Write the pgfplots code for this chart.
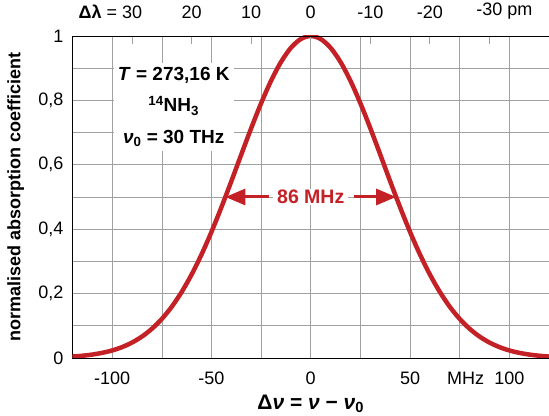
\documentclass[border=0pt]{standalone}
\usepackage{fontspec}
\setmainfont{Liberation Sans}
\usepackage{pgfplots}
\pgfplotsset{compat=1.18}
\usetikzlibrary{calc,arrows.meta}
\definecolor{curvered}{HTML}{C42127}
\definecolor{gridgray}{HTML}{A0A0A0}

\begin{document}
\fontsize{18}{21}\selectfont
\begin{tikzpicture}
\begin{axis}[name=ax,scale only axis,width=476.5pt,height=322pt,
 xmin=-120,xmax=120,ymin=0,ymax=1,
 axis x line*=bottom,axis y line*=left,axis line style={black,line width=0.9pt,-},
 xtick={-100,-50,0,50,100},xticklabels={-100,-50,0,50,100},
 minor xtick={-75,-25,25,75},
 ytick={0,0.2,0.4,0.6,0.8,1},yticklabels={0,{0,2},{0,4},{0,6},{0,8},1},
 minor ytick={0.1,0.3,0.5,0.7,0.9},
 major tick length=0pt,minor tick length=0pt,
 grid=both,major grid style={gridgray,line width=0.6pt},minor grid style={gridgray,line width=0.6pt},
 tick label style={font=\fontsize{18}{21}\selectfont},
 xticklabel style={yshift=-8pt},yticklabel style={xshift=-3pt},
 extra x ticks={78},extra x tick labels={MHz},extra x tick style={grid=none},
 xlabel={\textbf{Δ\textit{ν} = \textit{ν} − \textit{ν}\textsubscript{0}}},
 xlabel style={font=\fontsize{21}{22}\selectfont,yshift=2pt},
 ylabel={\bfseries normalised absorption coefficient},
 ylabel style={font=\fontsize{18}{21}\selectfont,yshift=2pt}]
\addplot[curvered,line width=4.5pt,smooth] coordinates {
(-125,0.0029)(-120,0.0045)(-115,0.0070)(-110,0.0107)(-105,0.0160)(-100,0.0235)
(-95,0.0339)(-90,0.0480)(-85,0.0666)(-80,0.0908)(-75,0.1214)(-70,0.1593)
(-65,0.2052)(-60,0.2594)(-55,0.3217)(-50,0.3917)(-45,0.4681)(-40,0.5489)
(-35,0.6318)(-30,0.7136)(-25,0.7911)(-20,0.8608)(-15,0.9191)(-10,0.9632)
(-5,0.9907)(0,1)(5,0.9907)(10,0.9632)(15,0.9191)(20,0.8608)(25,0.7911)
(30,0.7136)(35,0.6318)(40,0.5489)(45,0.4681)(50,0.3917)(55,0.3217)
(60,0.2594)(65,0.2052)(70,0.1593)(75,0.1214)(80,0.0908)(85,0.0666)
(90,0.0480)(95,0.0339)(100,0.0235)(105,0.0160)(110,0.0107)(115,0.0070)
(120,0.0045)(125,0.0029)};
\draw[curvered,line width=3pt,-{Triangle[length=20pt,width=16pt]}] (axis cs:-21,0.5) -- (axis cs:-43,0.5);
\draw[curvered,line width=3pt,-{Triangle[length=20pt,width=16pt]}] (axis cs:22,0.5) -- (axis cs:43,0.5);
\node[fill=white,text=curvered,font=\bfseries\fontsize{19.5}{21}\selectfont,inner xsep=4pt,inner ysep=1pt] at (axis cs:0,0.5) {86 MHz};
\node[fill=white,align=center,inner sep=4pt,font=\bfseries\fontsize{19}{31.5}\selectfont] at (axis cs:-69,0.78)
 {\textit{T} = 273,16 K\\ \textsuperscript{14}NH\textsubscript{3}\\ \textit{ν}\textsubscript{0} = 30 THz};
\end{axis}
\begin{axis}[scale only axis,width=476.5pt,height=322pt,
 xmin=-120,xmax=120,ymin=0,ymax=1,
 axis x line*=top,axis y line=none,axis line style={black,line width=0.9pt,-},
 xtick={-90,-60,-30,0,30,60,90},
 xticklabels={\llap{\textbf{Δλ} = }30,20,10,0,-10,-20,-30\rlap{ pm}},
 tick align=inside,major tick length=8pt,tick style={gridgray,line width=0.8pt},
 tick label style={font=\fontsize{18}{21}\selectfont},xticklabel style={yshift=11pt},ytick=\empty]
\end{axis}
\pgfresetboundingbox
\path ($(ax.south west)+(-72.5pt,-58pt)$) rectangle ($(ax.north east)+(0pt,36pt)$);
\end{tikzpicture}
\end{document}
